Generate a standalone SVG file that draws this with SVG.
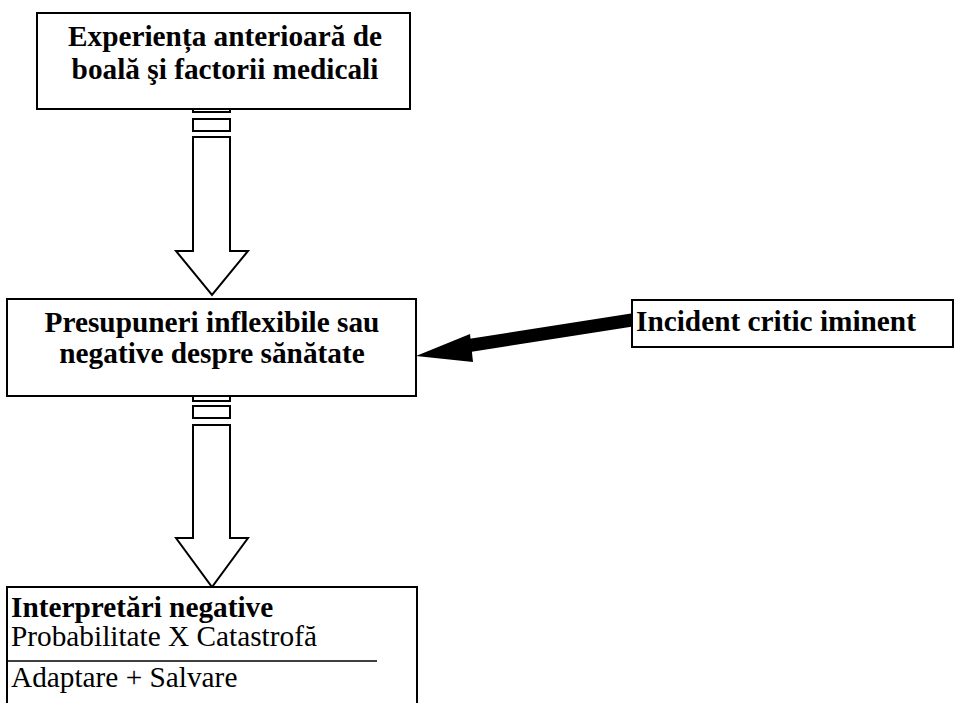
<svg xmlns="http://www.w3.org/2000/svg" width="955" height="703" viewBox="0 0 955 703">
<style>
.box{fill:#fff;stroke:#000;stroke-width:2}
text{font-family:'Liberation Serif','Tinos','Times New Roman','DejaVu Serif',serif;font-size:29.3px;fill:#000}
.b{font-weight:bold}
.ar{fill:#fff;stroke:#000;stroke-width:2}
</style>
<rect width="955" height="703" fill="#fff"/>
<g id="connectors">
  <g id="arrow1">
    <rect class="ar" x="193" y="107" width="37" height="5"/>
    <rect class="ar" x="193" y="119" width="37" height="12"/>
    <path class="ar" d="M193,137 H230 V251 H248 L212,295 L176,251 H193 Z"/>
  </g>
  <g id="arrow2">
    <rect class="ar" x="193" y="396" width="37" height="5"/>
    <rect class="ar" x="193" y="406" width="37" height="12"/>
    <path class="ar" d="M193,425 H230 V538 H248 L212,587 L176,538 H193 Z"/>
  </g>
  <g id="arrow3">
    <line x1="632" y1="320" x2="466" y2="346" stroke="#000" stroke-width="13"/>
    <polygon points="416,356 470,334 473,362" fill="#000"/>
  </g>
</g>
<g id="node1">
  <rect class="box" x="37" y="13" width="373" height="96"/>
  <text class="b" x="225" y="46" text-anchor="middle" font-family="Liberation Serif, serif">Experiența anterioară de</text>
  <text class="b" x="225" y="79" text-anchor="middle" font-family="Liberation Serif, serif">boală şi factorii medicali</text>
</g>
<g id="node2">
  <rect class="box" x="7" y="299" width="409" height="97"/>
  <text class="b" x="212" y="332" text-anchor="middle" font-family="Liberation Serif, serif">Presupuneri inflexibile sau</text>
  <text class="b" x="212" y="363" text-anchor="middle" font-family="Liberation Serif, serif">negative despre sănătate</text>
</g>
<g id="node3">
  <rect class="box" x="632" y="300" width="321" height="47"/>
  <text class="b" x="636" y="331" font-family="Liberation Serif, serif">Incident critic iminent</text>
</g>
<g id="node4">
  <rect class="box" x="7" y="587" width="410" height="130"/>
  <text class="b" x="11" y="617" font-family="Liberation Serif, serif">Interpretări negative</text>
  <text x="11" y="646" font-family="Liberation Serif, serif">Probabilitate X Catastrofă</text>
  <line x1="7" y1="661" x2="377" y2="661" stroke="#000" stroke-width="1.5"/>
  <text x="11" y="687" font-family="Liberation Serif, serif">Adaptare + Salvare</text>
</g>
</svg>
